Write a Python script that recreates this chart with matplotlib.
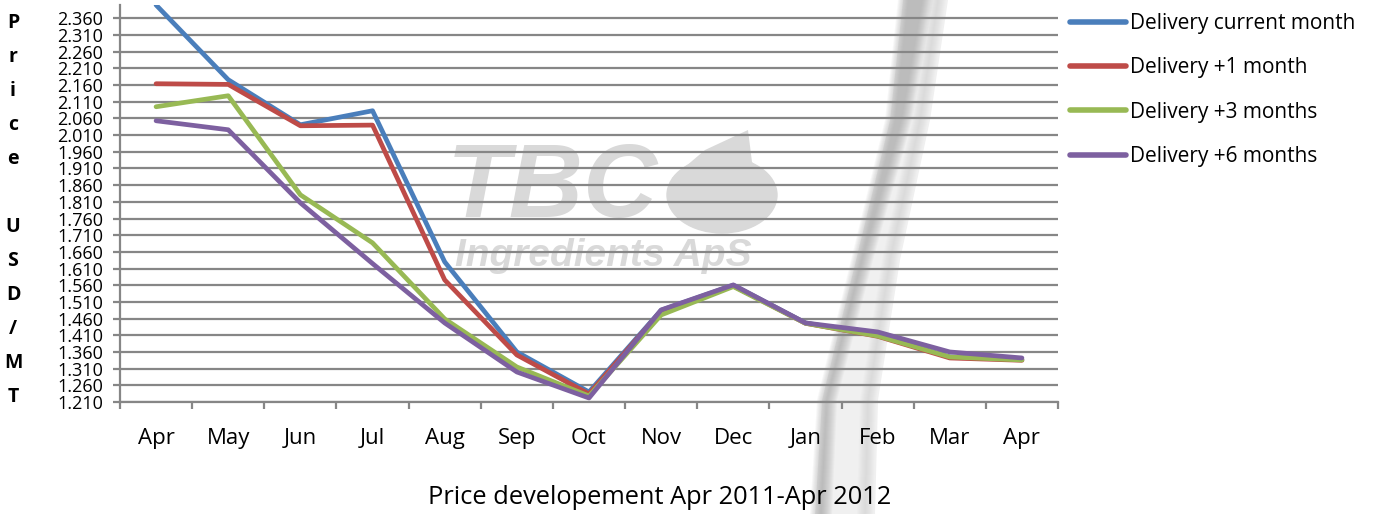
import matplotlib
matplotlib.use('Agg')
import matplotlib.pyplot as plt
import numpy as np
from matplotlib.patches import Ellipse, Polygon
from matplotlib.lines import Line2D

months = ['Apr', 'May', 'Jun', 'Jul', 'Aug', 'Sep', 'Oct', 'Nov', 'Dec', 'Jan', 'Feb', 'Mar', 'Apr']
current_month = [2.400, 2.176, 2.041, 2.083, 1.630, 1.360, 1.240, 1.485, 1.560, 1.447, 1.410, 1.345, 1.337]
plus_1_month = [2.164, 2.162, 2.038, 2.040, 1.576, 1.351, 1.234, 1.483, 1.558, 1.446, 1.407, 1.342, 1.335]
plus_3_months = [2.095, 2.128, 1.831, 1.687, 1.459, 1.315, 1.228, 1.471, 1.556, 1.446, 1.408, 1.345, 1.336]
plus_6_months = [2.053, 2.026, 1.807, 1.625, 1.447, 1.300, 1.222, 1.486, 1.561, 1.447, 1.420, 1.360, 1.342]
series_names = ['Delivery current month', 'Delivery +1 month', 'Delivery +3 months', 'Delivery +6 months']
colors = ['#4a7ebb', '#be4b48', '#98b954', '#7d60a0']
y_ticks = np.round(np.arange(1.210, 2.3601, 0.05), 3)

plt.rcParams['font.family'] = ['Open Sans', 'DejaVu Sans']

W, H = 1373, 514
def fx(px):
    return px / W
def fy(py):
    return 1 - py / H
def fig_poly(pts, **kw):
    return Polygon([(fx(a), fy(b)) for a, b in pts], closed=True, transform=fig.transFigure,
                   edgecolor='none', clip_on=False, **kw)

fig = plt.figure(figsize=(W / 100, H / 100), dpi=100)
ax = fig.add_axes([fx(120), fy(402), fx(1058) - fx(120), fy(5) - fy(402)])
ax.set_facecolor('none')

x = np.arange(len(months))
all_series = [current_month, plus_1_month, plus_3_months, plus_6_months]
for vals, name, c in zip(all_series, series_names, colors):
    ax.plot(x, vals, color=c, lw=3.4, label=name, solid_capstyle='round',
            solid_joinstyle='round', zorder=3)

ax.set_xlim(-0.5, len(months) - 0.5)
ax.set_ylim(1.21, 2.40)
ax.set_yticks(y_ticks)
ax.set_yticklabels([f'{v:.3f}' for v in y_ticks])
ax.set_xticks(x)
ax.set_xticklabels(months)
ax.set_xticks(np.arange(-0.5, len(months), 1), minor=True)

grey = '#868686'
ax.set_axisbelow(True)
ax.yaxis.grid(True, color=grey, lw=1.6)
for s in ['top', 'right']:
    ax.spines[s].set_visible(False)
for s in ['left', 'bottom']:
    ax.spines[s].set_color(grey)
    ax.spines[s].set_linewidth(1.6)
ax.tick_params(axis='y', length=5, width=1.6, color=grey, labelsize=13, pad=7)
ax.tick_params(axis='x', which='major', length=0, labelsize=16, pad=19)
ax.tick_params(axis='x', which='minor', length=5, width=1.6, color=grey)

# watermark
wm = '#d9d9d9'
ax.text(fx(552), fy(190), 'TBC', transform=fig.transFigure, fontsize=74, fontweight='bold',
        fontstyle='italic', family='Liberation Sans', color=wm, ha='center', va='center', zorder=0.2)
ax.text(fx(603), fy(256), 'Ingredients ApS', transform=fig.transFigure, fontsize=28, fontweight='bold',
        fontstyle='italic', family='Liberation Sans', color=wm, ha='center', va='center', zorder=0.2)
ax.add_patch(Ellipse((fx(722), fy(195)), 110 / W, 76 / H, transform=fig.transFigure,
                     color=wm, zorder=0.2, clip_on=False))
ax.add_patch(fig_poly([(672, 178), (705, 150), (748, 130), (752, 162), (775, 192)], facecolor=wm, zorder=0.2))

# soft grey streak across the picture (behind grid)
left_edge = [(903, 0), (890, 120), (856, 260), (822, 400), (815, 514)]
right_edge = [(875, 514), (878, 400), (900, 260), (930, 120), (948, 0)]
ax.add_patch(fig_poly(left_edge + right_edge, facecolor='#f0f0f0', zorder=0.3))
dark_w = [25, 17, 12, 10, 12]
for off in range(-5, 6):
    dark = [(a + off, b) for a, b in left_edge] + \
           [(a + w + off, b) for (a, b), w in zip(left_edge[::-1], dark_w[::-1])]
    ax.add_patch(fig_poly(dark, facecolor='#9a9a9a', alpha=0.07, zorder=0.31))
for off in range(-4, 5):
    rim = [(a - 14 + off, b) for a, b in right_edge] + [(a - 6 + off, b) for a, b in right_edge[::-1]]
    ax.add_patch(fig_poly(rim, facecolor='#bdbdbd', alpha=0.05, zorder=0.31))

# vertical y label
for i, ch in enumerate('Price USD/MT'):
    if ch != ' ':
        fig.text(fx(13), fy(23 + i * 34), ch, ha='center', va='center', fontweight='bold', fontsize=14)

handles = [Line2D([], [], color=c, lw=4, solid_capstyle='round') for c in colors]
fig.legend(handles, series_names, loc='upper left', bbox_to_anchor=(fx(1070), fy(13)),
           frameon=False, fontsize=15, handlelength=2.7, handletextpad=0.2,
           labelspacing=1.12, borderaxespad=0, borderpad=0)

fig.text(fx(660), fy(497), 'Price developement Apr 2011-Apr 2012', ha='center', va='center', fontsize=18.3)

fig.savefig('out.png', dpi=100)
